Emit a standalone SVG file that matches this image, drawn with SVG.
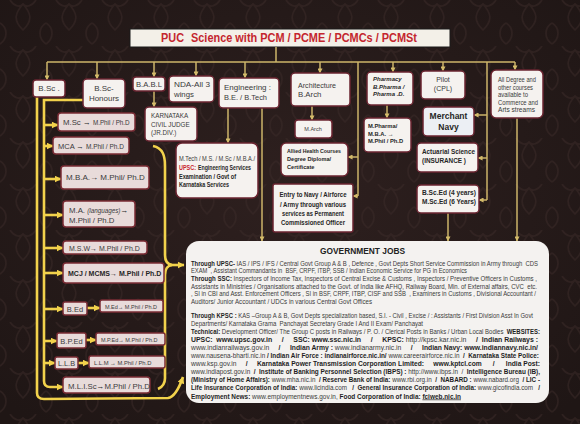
<svg xmlns="http://www.w3.org/2000/svg" width="580" height="424" viewBox="0 0 580 424">
<defs>
<radialGradient id="bg" cx="50%" cy="45%" r="70%">
<stop offset="0" stop-color="#2e201f"/>
<stop offset="1" stop-color="#1f1615"/>
</radialGradient>
<pattern id="dm" width="46" height="46" patternUnits="userSpaceOnUse">
<path d="M23,4 C30,12 34,20 23,30 C12,20 16,12 23,4 Z M0,23 C8,28 8,38 0,44 M46,23 C38,28 38,38 46,44 M10,0 C14,6 20,8 23,4 M36,0 C32,6 26,8 23,4" fill="none" stroke="#3b2a28" stroke-width="1.6" opacity="0.55"/>
</pattern>
<marker id="ag" viewBox="0 0 6 6" refX="5.5" refY="3" markerWidth="5" markerHeight="5" markerUnits="userSpaceOnUse" orient="auto"><path d="M0,0 L6,3 L0,6z" fill="#d3bb6a"/></marker>
<marker id="ay" viewBox="0 0 6 6" refX="5.5" refY="3" markerWidth="7" markerHeight="7" markerUnits="userSpaceOnUse" orient="auto"><path d="M0,0 L6,3 L0,6z" fill="#f2d24c"/></marker>
<style>
text{font-family:"Liberation Sans",Arial,sans-serif;fill:#3a3a3a}
.tb{fill:#f5f2ef;stroke:#6a2430;stroke-width:1.5}
.lb{fill:#e8dbda;stroke:#7a2c35;stroke-width:1.5}
.g{fill:none;stroke:#cdb56a;stroke-width:1.5}
.y{fill:none;stroke:#f2d24c;stroke-width:2.6}
.t8{font-size:8px}
.t7{font-size:7px}
.t6{font-size:6px}
.b{font-weight:bold;fill:#262626}
.gt{font-size:6.7px}
.gt tspan.b{font-weight:bold;fill:#1e1e1e}
</style>
</defs>
<rect width="580" height="424" fill="url(#bg)"/>
<rect width="580" height="424" fill="url(#dm)"/>

<g id="title">
<rect x="130" y="29" width="320" height="18" fill="#f3f0e8" stroke="#1a1a1a" stroke-width="1"/>
<text x="161" y="42" font-size="13.5" font-weight="bold" style="fill:#c4262e" textLength="23" lengthAdjust="spacingAndGlyphs">PUC</text>
<text x="191" y="42" font-size="13.5" font-weight="bold" style="fill:#c4262e" textLength="226" lengthAdjust="spacingAndGlyphs">Science with PCM / PCME / PCMCs / PCMSt</text>
</g>

<g id="connectors">
<path class="g" d="M276,47 V62 M47,62 H515"/>
<path class="g" marker-end="url(#ag)" d="M47,62 V80"/>
<path class="g" marker-end="url(#ag)" d="M97,62 V79"/>
<path class="g" marker-end="url(#ag)" d="M154,62 V77"/>
<path class="g" marker-end="url(#ag)" d="M196,62 V76"/>
<path class="g" marker-end="url(#ag)" d="M245,62 V78"/>
<path class="g" marker-end="url(#ag)" d="M320,62 V73"/>
<path class="g" marker-end="url(#ag)" d="M393,62 V72"/>
<path class="g" marker-end="url(#ag)" d="M443,62 V71"/>
<path class="g" marker-end="url(#ag)" d="M515,62 V70"/>
<path class="g" d="M487,62 V200"/>
<path class="g" marker-end="url(#ag)" d="M487,115 H474"/>
<path class="g" marker-end="url(#ag)" d="M487,158 H478"/>
<path class="g" marker-end="url(#ag)" d="M487,200 H479"/>
<path class="g" d="M358,62 V196"/>
<path class="g" marker-end="url(#ag)" d="M358,157 H348"/>
<path class="g" marker-end="url(#ag)" d="M358,196 H353"/>
<path class="g" marker-end="url(#ag)" d="M154,91 V107"/>
<path class="g" marker-end="url(#ag)" d="M228,108 V143"/>
<path class="g" marker-end="url(#ag)" d="M262,108 V241"/>
<path class="g" marker-end="url(#ag)" d="M312,106 V120"/>
<path class="g" marker-end="url(#ag)" d="M387,105 V118"/>
<path class="g" marker-end="url(#ag)" d="M448,213 V241"/>
<path class="g" marker-end="url(#ag)" d="M517,118 V241"/>
<path class="y" d="M37,97 V393 Q37,399 44,399 L168,398 Q176,397 183,377" marker-end="url(#ay)"/>
<path class="y" d="M83,100 H44 V381 Q44,387 50,387 H63" marker-end="url(#ay)"/>
<path class="y" marker-end="url(#ay)" d="M44,125 H58"/>
<path class="y" marker-end="url(#ay)" d="M44,146 H53"/>
<path class="y" marker-end="url(#ay)" d="M44,179 H61"/>
<path class="y" marker-end="url(#ay)" d="M44,215 H63"/>
<path class="y" marker-end="url(#ay)" d="M44,248 H63"/>
<path class="y" marker-end="url(#ay)" d="M44,273 H63"/>
<path class="y" marker-end="url(#ay)" d="M44,309 H63"/>
<path class="y" marker-end="url(#ay)" d="M44,341 H57"/>
<path class="y" marker-end="url(#ay)" d="M44,363 H55"/>
<path class="y" marker-end="url(#ay)" d="M87,308 H100"/>
<path class="y" marker-end="url(#ay)" d="M86,340 H96"/>
<path class="y" marker-end="url(#ay)" d="M78,363 H89"/>
<path class="y" d="M153,146 C163,148 165,156 165,166 V255 Q165,264 172,265 Q165,266 165,275 V378 Q165,386 158,389"/>
<path class="y" marker-end="url(#ay)" d="M168,265 H184"/>
</g>

<g id="bsc"><rect class="tb" x="33" y="80" width="32" height="17" rx="3"/><text class="t8" x="49" y="91" text-anchor="middle">B.Sc .</text></g>
<g id="bsch"><rect class="tb" x="83" y="79" width="42" height="29" rx="4"/><text class="t8" x="104" y="91" text-anchor="middle">B.Sc-</text><text class="t8" x="104" y="101" text-anchor="middle">Honours</text></g>
<g id="babl"><rect class="tb" x="133" y="77" width="32" height="14" rx="3"/><text class="t8" x="149" y="87" text-anchor="middle" textLength="26" lengthAdjust="spacingAndGlyphs">B.A.B.L</text></g>
<g id="nda"><rect class="tb" x="169" y="76" width="45" height="26" rx="4"/><text x="174" y="87" font-size="7.8" textLength="36" lengthAdjust="spacingAndGlyphs">NDA-All 3</text><text x="174" y="97" font-size="7.8">wings</text></g>
<g id="eng"><rect class="tb" x="219" y="78" width="60" height="30" rx="4"/><text x="224" y="90" font-size="8" textLength="47" lengthAdjust="spacingAndGlyphs">Engineering :</text><text x="224" y="100" font-size="8" textLength="43" lengthAdjust="spacingAndGlyphs">B.E. / B.Tech</text></g>
<g id="arch"><rect class="tb" x="291" y="73" width="59" height="33" rx="4"/><text x="298" y="88" font-size="7.8" textLength="38" lengthAdjust="spacingAndGlyphs">Architecture</text><text x="298" y="97" font-size="7.8">B.Arch</text></g>
<g id="pharm"><rect class="tb" x="367" y="72" width="46" height="33" rx="4"/>
<text class="t6 b" x="373" y="81" font-style="italic">Pharmacy</text><text class="t6 b" x="373" y="88.5" font-style="italic">B.Pharma /</text><text class="t6 b" x="373" y="96" font-style="italic">Pharma .D.</text></g>
<g id="pilot"><rect class="tb" x="421" y="71" width="44" height="28" rx="4"/><text class="t7" x="443" y="82" text-anchor="middle">Pilot</text><text class="t7" x="443" y="90.5" text-anchor="middle">(CPL)</text></g>
<g id="alldeg"><rect class="tb" x="491" y="70" width="52" height="48" rx="5"/>
<text x="498" y="82" font-size="6.5" textLength="38" lengthAdjust="spacingAndGlyphs">All Degree and</text>
<text x="498" y="89.5" font-size="6.5" textLength="35" lengthAdjust="spacingAndGlyphs">other courses</text>
<text x="498" y="97" font-size="6.5" textLength="30" lengthAdjust="spacingAndGlyphs">available to</text>
<text x="498" y="104.5" font-size="6.5" textLength="40" lengthAdjust="spacingAndGlyphs">Commerce and</text>
<text x="498" y="112" font-size="6.5" textLength="37" lengthAdjust="spacingAndGlyphs">Arts streams</text></g>

<g id="kcj"><rect class="tb" x="145" y="107" width="52" height="34" rx="4"/>
<text x="151" y="118" font-size="6.3">KARNATAKA</text><text x="151" y="126.5" font-size="6.3">CIVIL JUDGE</text><text x="151" y="135" font-size="6.3">(JR.DIV.)</text></g>
<g id="mtech"><rect class="tb" x="176" y="143" width="82" height="55" rx="6"/>
<text x="179" y="161" font-size="6.4" textLength="76" lengthAdjust="spacingAndGlyphs">M.Tech / M.S. / M.Sc / M.B.A./</text>
<text x="179" y="170" font-size="6.4" font-weight="bold" style="fill:#c8262e" textLength="17" lengthAdjust="spacingAndGlyphs">UPSC:</text>
<text x="198" y="170" font-size="6.4" class="b" textLength="53" lengthAdjust="spacingAndGlyphs">Engineering Services</text>
<text x="179" y="178.5" font-size="6.4" class="b" textLength="57" lengthAdjust="spacingAndGlyphs">Examination / Govt of</text>
<text x="179" y="187" font-size="6.4" class="b" textLength="50" lengthAdjust="spacingAndGlyphs">Karnataka Services</text></g>
<g id="march"><rect class="tb" x="295" y="120" width="37" height="18" rx="3"/><text x="313" y="131" font-size="5.5" text-anchor="middle">M.Arch</text></g>
<g id="allied"><rect class="tb" x="281" y="143" width="67" height="33" rx="5"/>
<text class="b" x="287" y="153" font-size="5.6" textLength="54" lengthAdjust="spacingAndGlyphs">Allied Health Courses</text><text class="b" x="287" y="161" font-size="5.6">Degree  Diploma/</text><text class="b" x="287" y="169" font-size="5.6">Certificate</text></g>
<g id="entry"><rect class="tb" x="273" y="184" width="80" height="48" rx="2"/>
<text class="b" x="313" y="197" font-size="6.4" text-anchor="middle" textLength="67" lengthAdjust="spacingAndGlyphs">Entry to Navy / Airforce</text>
<text class="b" x="313" y="206.5" font-size="6.4" text-anchor="middle" textLength="66" lengthAdjust="spacingAndGlyphs">/ Army through various</text>
<text class="b" x="313" y="215.5" font-size="6.4" text-anchor="middle" textLength="62" lengthAdjust="spacingAndGlyphs">services as Permanent</text>
<text class="b" x="313" y="225" font-size="6.4" text-anchor="middle" textLength="64" lengthAdjust="spacingAndGlyphs">Commissioned Officer</text></g>
<g id="mpharm"><rect class="tb" x="364" y="118" width="47" height="34" rx="4"/>
<text class="b" x="368" y="128" font-size="5.8">M.Pharma/</text><text class="b" x="368" y="135.5" font-size="5.8">M.B.A. →</text><text class="b" x="368" y="143" font-size="5.8">M.Phil  / Ph.D</text></g>
<g id="merchant"><rect x="423" y="107" width="51" height="29" rx="4" fill="#eceff4" stroke="#6a2430" stroke-width="1.5"/>
<text class="b" x="448.5" y="119" font-size="8.5" text-anchor="middle">Merchant</text><text class="b" x="448.5" y="130" font-size="8.5" text-anchor="middle">Navy</text></g>
<g id="actuarial"><rect class="tb" x="417" y="143" width="61" height="29" rx="4"/>
<text class="b" x="422" y="154" font-size="6.5" textLength="53" lengthAdjust="spacingAndGlyphs">Actuarial Science</text><text class="b" x="422" y="162.5" font-size="6.5" textLength="44" lengthAdjust="spacingAndGlyphs">(INSURANCE )</text></g>
<g id="bsced"><rect class="tb" x="417" y="185" width="62" height="28" rx="4"/>
<text class="b" x="422" y="195" font-size="6.5" textLength="54" lengthAdjust="spacingAndGlyphs">B.Sc.Ed  (4 years)</text><text class="b" x="422" y="203.5" font-size="6.5" textLength="54" lengthAdjust="spacingAndGlyphs">M.Sc.Ed (6 Years)</text></g>

<g id="msc"><rect class="lb" x="58" y="113" width="77" height="18" rx="3"/><text x="63" y="124.5" font-size="7.8">M.Sc <tspan class="b">→</tspan> <tspan font-size="6.3">M.Phil / Ph.D</tspan></text></g>
<g id="mca"><rect class="lb" x="53" y="137" width="76" height="17" rx="3"/><text x="58" y="148.5" font-size="7.5">MCA <tspan class="b">→</tspan> <tspan font-size="6.5">M.Phil / Ph.D</tspan></text></g>
<g id="mba"><rect class="lb" x="61" y="166" width="88" height="23" rx="3"/><text x="66" y="180" font-size="8">M.B.A.<tspan class="b">→</tspan> M.Phil/ Ph.D</text></g>
<g id="ma"><rect class="lb" x="63" y="201" width="72" height="26" rx="3"/><text x="69" y="213" font-size="7.8">M.A. <tspan font-style="italic" font-size="6.3">(languages)</tspan><tspan class="b">→</tspan></text><text x="69" y="222.5" font-size="7.8">M.Phil / Ph.D</text></g>
<g id="msw"><rect class="lb" x="63" y="241" width="84" height="13" rx="3"/><text x="69" y="250.5" font-size="7">M.S.W<tspan class="b">→</tspan> M.Phil / Ph.D</text></g>
<g id="mcj"><rect class="lb" x="63" y="263" width="101" height="20" rx="3"/><text class="b" x="68" y="276" font-size="7">MCJ / MCMS<tspan>→</tspan> M.Phil / Ph.D</text></g>
<g id="bed"><rect class="lb" x="63" y="302" width="24" height="13" rx="2"/><text x="75" y="311.5" font-size="7.5" text-anchor="middle">B.Ed</text></g>
<g id="med"><rect class="lb" x="100" y="300" width="63" height="12" rx="2"/><text x="105" y="308.5" font-size="5.5">M.Ed<tspan class="b">→</tspan> M.Phil / Ph.D</text></g>
<g id="bped"><rect class="lb" x="57" y="333" width="29" height="15" rx="2"/><text x="71.5" y="343.5" font-size="7.5" text-anchor="middle">B.P.Ed</text></g>
<g id="mped"><rect class="lb" x="96" y="333" width="69" height="12" rx="2"/><text x="101" y="341.5" font-size="5.5">M.P.Ed<tspan class="b">→</tspan> M.Phil / Ph.D</text></g>
<g id="llb"><rect class="lb" x="55" y="357" width="23" height="12" rx="2"/><text x="66.5" y="366" font-size="7.3" text-anchor="middle">L.L.B</text></g>
<g id="llm"><rect class="lb" x="89" y="356" width="76" height="12" rx="2"/><text x="94" y="364.5" font-size="5.8">L.L.M <tspan class="b">→</tspan> M.Phil / Ph.D</text></g>
<g id="mlisc"><rect class="lb" x="63" y="377" width="87" height="16" rx="3"/><text x="68" y="388.5" font-size="7.8">M.L.I.Sc<tspan class="b">→</tspan>M.Phil / Ph.D</text></g>

<g id="govt">
<rect x="186" y="241" width="363" height="162" rx="13" fill="#f4f2f0"/>
<text x="320" y="254" font-size="9.5" font-weight="bold" style="fill:#222" textLength="85" lengthAdjust="spacingAndGlyphs">GOVERNMENT JOBS</text>
<g class="gt">
<text xml:space="preserve" x="191" y="265.5" textLength="347" lengthAdjust="spacingAndGlyphs"><tspan class="b">Through UPSC-</tspan> IAS / IPS / IFS / Central Govt Group A &amp; B , Defence , Govt Depts Short Service Commission in Army through  CDS</text>
<text xml:space="preserve" x="191" y="273.2" textLength="276" lengthAdjust="spacingAndGlyphs">EXAM  , Assistant Commandants in  BSF, CRPF, ITBP, SSB / Indian Economic Service for PG in Economics</text>
<text xml:space="preserve" x="191" y="280.9" textLength="346" lengthAdjust="spacingAndGlyphs"><tspan class="b">Through SSC:</tspan> Inspectors of Income Tax, Inspectors of Central Excise &amp; Customs , Inspectors / Preventive Officers in Customs ,</text>
<text xml:space="preserve" x="191" y="288.6" textLength="346" lengthAdjust="spacingAndGlyphs">Assistants in Ministries / Organisations attached to the Govt. of India like AFHQ, Railway Board, Min. of External affairs, CVC  etc.</text>
<text xml:space="preserve" x="191" y="296.3" textLength="345" lengthAdjust="spacingAndGlyphs">, SI in CBI and Asst. Enforcement Officers , SI in BSF, CRPF, ITBP, CISF and SSB  , Examiners in Customs , Divisional Accountant /</text>
<text xml:space="preserve" x="191" y="304" textLength="181" lengthAdjust="spacingAndGlyphs">Auditors/ Junior Accountant / UDCs in various Central Govt Offices</text>
<text xml:space="preserve" x="191" y="317.5" textLength="342" lengthAdjust="spacingAndGlyphs"><tspan class="b">Through KPSC :</tspan> KAS –Group A &amp; B, Govt Depts specialization based, S.I. - Civil , Excise / : Assistants / First Division Asst In Govt</text>
<text xml:space="preserve" x="191" y="325.6" textLength="232" lengthAdjust="spacingAndGlyphs">Departments/ Karnataka Grama  Panchayat Secretary Grade I And II Exam/ Panchayat</text>
<text xml:space="preserve" x="191" y="333.7" textLength="349" lengthAdjust="spacingAndGlyphs"><tspan class="b">Technical:</tspan> Development Officer/ The Group C posts in Railways / P. O. / Clerical Posts in Banks / Urban Local Bodies  <tspan class="b">WEBSITES:</tspan></text>
<text xml:space="preserve" x="191" y="341.8" textLength="347" lengthAdjust="spacingAndGlyphs"><tspan class="b">UPSC:  www.upsc.gov.in     /     SSC: www.ssc.nic.in     /     KPSC:</tspan> http://kpsc.kar.nic.in     <tspan class="b">/  Indian Railways :</tspan></text>
<text xml:space="preserve" x="191" y="349.9" textLength="347" lengthAdjust="spacingAndGlyphs">www.indianrailways.gov.in     <tspan class="b">/     Indian Army :</tspan> www.indianarmy.nic.in     <tspan class="b">/     Indian Navy: www.indiannavy.nic.in/</tspan></text>
<text xml:space="preserve" x="191" y="358" textLength="348" lengthAdjust="spacingAndGlyphs">www.nausena-bharti.nic.in <tspan class="b">/ Indian Air Force : indianairforce.nic.in/</tspan> www.careerairforce.nic.in  <tspan class="b">/  Karnataka State Police:</tspan></text>
<text xml:space="preserve" x="191" y="366.1" textLength="349" lengthAdjust="spacingAndGlyphs">www.ksp.gov.in     <tspan class="b">/     Karnataka Power Transmission Corporation Limited:     www.kptcl.com      /      India Post:</tspan></text>
<text xml:space="preserve" x="191" y="374.2" textLength="349" lengthAdjust="spacingAndGlyphs">www.indiapost.gov.in  <tspan class="b">/  Institute of Banking Personnel Selection (IBPS) :</tspan> http://www.ibps.in  /  <tspan class="b">Intelligence Bureau (IB),</tspan></text>
<text xml:space="preserve" x="191" y="382.3" textLength="349" lengthAdjust="spacingAndGlyphs"><tspan class="b">(Ministry of Home Affairs):</tspan> www.mha.nic.in  <tspan class="b">/ Reserve Bank of India:</tspan> www.rbi.org.in  <tspan class="b">/  NABARD :</tspan> www.nabard.org  <tspan class="b">/ LIC -</tspan></text>
<text xml:space="preserve" x="191" y="390.4" textLength="349" lengthAdjust="spacingAndGlyphs"><tspan class="b">Life Insurance Corporation of India:</tspan> www.licindia.com   <tspan class="b">/  General Insurance Corporation of India:</tspan> www.gicofindia.com   <tspan class="b">/</tspan></text>
<text xml:space="preserve" x="191" y="398.5" textLength="270" lengthAdjust="spacingAndGlyphs"><tspan class="b">Employment News:</tspan> www.employmentnews.gov.in, <tspan class="b">Food Corporation of India:</tspan> <tspan class="b" text-decoration="underline">fciweb.nic.in</tspan></text>
</g>
</g>
</svg>
